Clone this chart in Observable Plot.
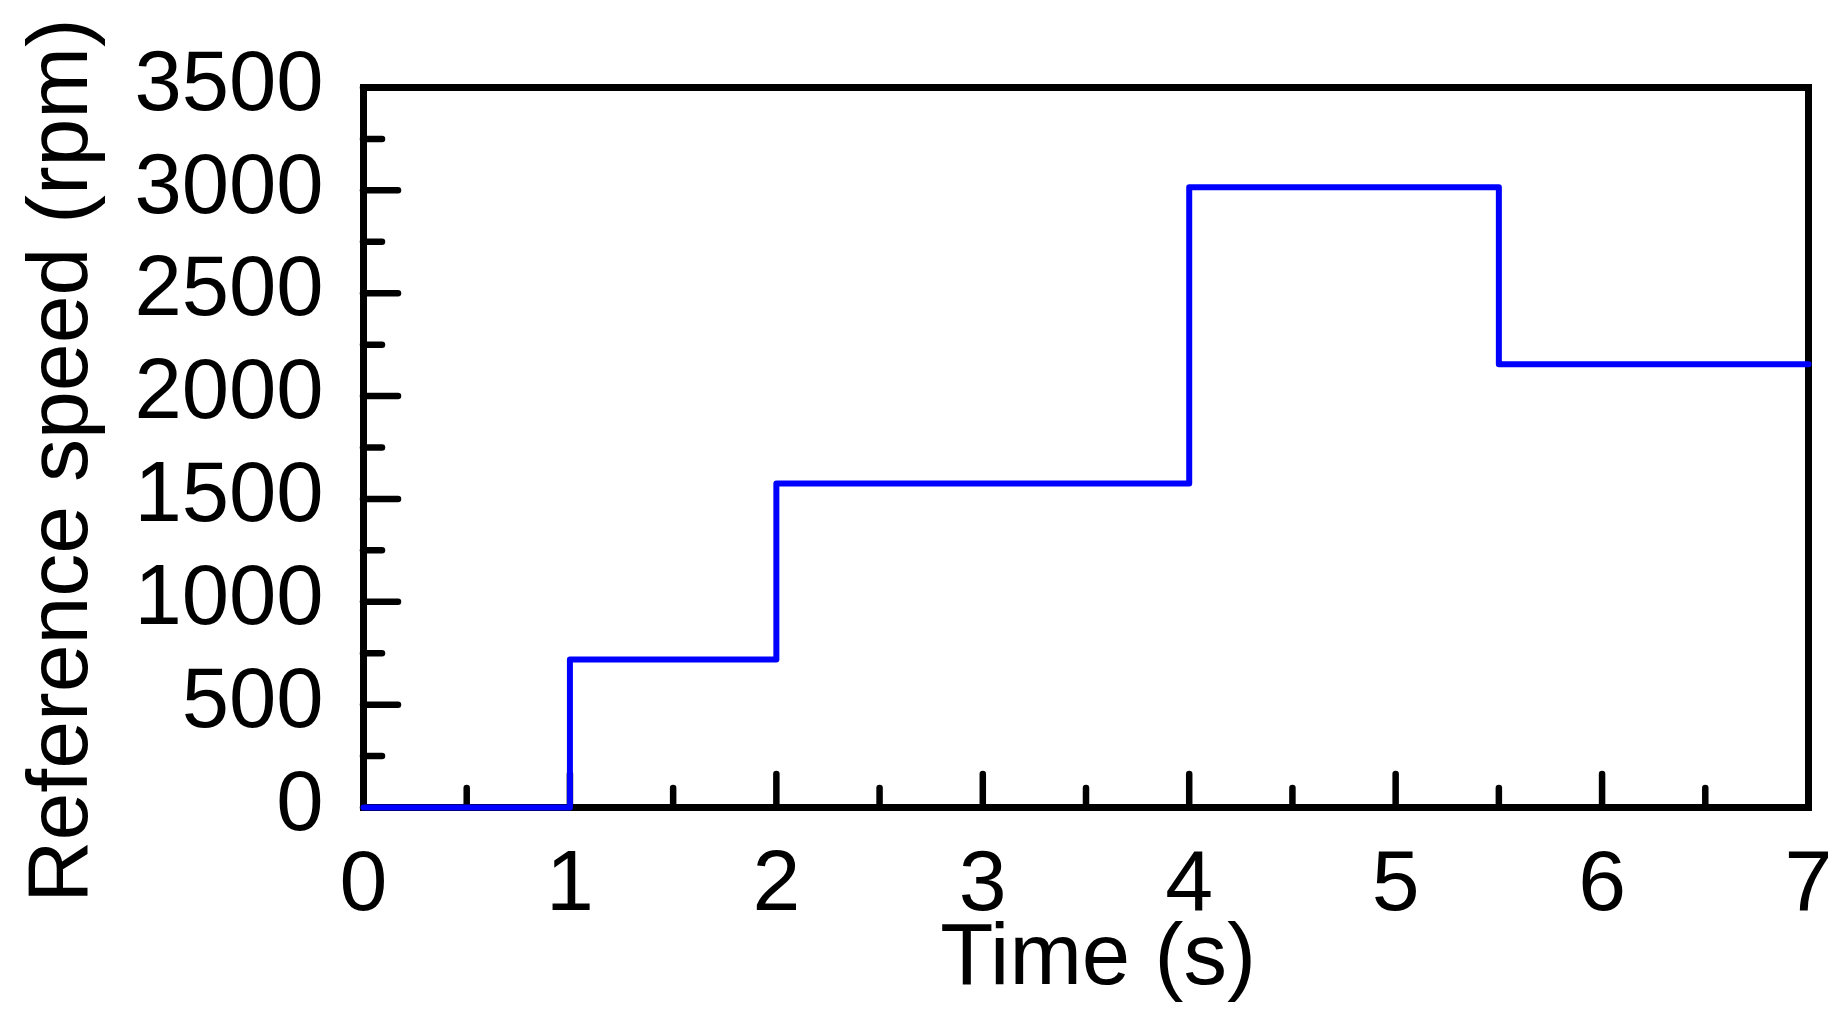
<!DOCTYPE html>
<html>
<head>
<meta charset="utf-8">
<script src="https://cdn.jsdelivr.net/npm/d3@7"></script>
<script src="https://cdn.jsdelivr.net/npm/@observablehq/plot@0.6"></script>
<style>
  html, body { margin: 0; padding: 0; background: white; }
</style>
</head>
<body>
<div id="chart"></div>
<script>
// Data
const times = [0, 1, 2, 4, 5.5, 7];
const speeds = [0, 720, 1575, 3015, 2155, 2155];

const xTicks = [0, 1, 2, 3, 4, 5, 6, 7];
const xMinorTicks = [0.5, 1.5, 2.5, 3.5, 4.5, 5.5, 6.5];
const yTicks = [0, 500, 1000, 1500, 2000, 2500, 3000, 3500];
const yMinorTicks = [250, 750, 1250, 1750, 2250, 2750, 3250];

const xLabel = "Time (s)";
const yLabel = "Reference speed (rpm)";

const data = times.map((t, i) => ({t, v: speeds[i]}));

const font = "'Liberation Sans', Arial, sans-serif";

const chart = Plot.plot({
  width: 1848,
  height: 1027,
  marginLeft: 363,
  marginRight: 40,
  marginTop: 87,
  marginBottom: 220,
  style: {fontFamily: font, fontSize: "88px", background: "white", color: "black", overflow: "visible"},
  x: {domain: [0, 7]},
  y: {domain: [0, 3500]},
  marks: [
    // minor ticks (inward)
    Plot.axisX({ticks: xMinorTicks, tickSize: -19, tickFormat: () => "", strokeWidth: 6.5, strokeLinecap: "round", label: null}),
    Plot.axisY({ticks: yMinorTicks, tickSize: -19, tickFormat: () => "", strokeWidth: 6.5, strokeLinecap: "round", label: null}),
    // major ticks (inward)
    Plot.axisX({ticks: xTicks, tickSize: -33, tickFormat: () => "", strokeWidth: 6.5, strokeLinecap: "round", label: null}),
    Plot.axisY({ticks: yTicks, tickSize: -35, tickFormat: () => "", strokeWidth: 6.5, strokeLinecap: "round", label: null}),
    // tick labels
    Plot.axisX({ticks: xTicks, tickSize: 0, tickPadding: 41, tickFormat: d => String(d), fontSize: 86, label: null}),
    Plot.axisY({ticks: yTicks, tickSize: 0, tickPadding: 40, dy: -5, tickFormat: d => String(d), fontSize: 85, label: null}),
    Plot.frame({stroke: "black", strokeWidth: 7}),
    Plot.line(data, {x: "t", y: "v", curve: "step-after", stroke: "#0000ff", strokeWidth: 6}),
    // axis titles
    Plot.text([xLabel], {frameAnchor: "bottom", text: d => d, dx: 12, dy: 176, lineAnchor: "bottom", fontSize: 87, fill: "black"}),
    Plot.text([yLabel], {frameAnchor: "left", text: d => d, rotate: -90, dx: -277, dy: 13, lineAnchor: "bottom", textAnchor: "middle", fontSize: 86, fill: "black"})
  ]
});

document.getElementById("chart").appendChild(chart);
</script>
</body>
</html>
